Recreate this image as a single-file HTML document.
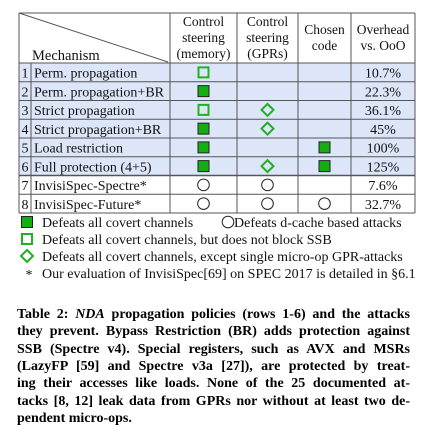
<!DOCTYPE html>
<html><head><meta charset="utf-8"><style>
body{margin:0;width:435px;height:440px;background:#fff;position:relative;overflow:hidden}
svg{position:absolute;left:0;top:0}
svg text{font-family:"Liberation Serif",serif}
.cap{position:absolute;left:17px;width:393px;font-family:"Liberation Serif",serif;font-weight:bold;font-size:14px;line-height:17px;text-align:justify;text-align-last:justify;white-space:nowrap}
</style></head><body>
<svg id="tbl" width="435" height="300"></svg>
<div>
<div class="cap" style="top:306px">Table 2: <i>NDA</i> propagation policies (rows 1-6) and the attacks</div>
<div class="cap" style="top:323px">they prevent. Bypass Restriction (BR) adds protection against</div>
<div class="cap" style="top:341px">SSB (Spectre v4). Special registers, such as AVX and MSRs</div>
<div class="cap" style="top:358px">(LazyFP [59] and Spectre v3a [27]), are protected by treat-</div>
<div class="cap" style="top:375px">ing their accesses like loads. None of the 25 documented at-</div>
<div class="cap" style="top:393px">tacks [8, 12] leak data from GPRs nor without at least two de-</div>
<div class="cap" style="top:410px;text-align-last:left">pendent micro-ops.</div>
</div>
<script>
const mechanisms=["Perm. propagation","Perm. propagation+BR","Strict propagation","Strict propagation+BR","Load restriction","Full protection (4+5)","InvisiSpec-Spectre*","InvisiSpec-Future*"];
const colMemory=["hs","fs","hs","fs","fs","fs","ci","ci"];
const colGPRs=["","","dm","dm","","dm","ci","ci"];
const colChosen=["","","","","fs","fs","","ci"];
const overheads=["10.7%","22.3%","36.1%","45%","100%","125%","7.6%","32.7%"];
const NS="http://www.w3.org/2000/svg";
const svg=document.getElementById('tbl');
function mk(tag,attrs,parent){const e=document.createElementNS(NS,tag);for(const k in attrs)e.setAttribute(k,attrs[k]);(parent||svg).appendChild(e);return e;}
const X=[19,31,170,237,298,351,415];const TOP=13,HB=63,RH=18.75;
const BOT=HB+RH*mechanisms.length;
const FS=14;
const bg=mk('rect',{x:X[0],y:HB,width:X[6]-X[0],height:RH*6,fill:'#dde6f8'});


function ln(x1,y1,x2,y2,w){const l=mk('line',{x1,y1,x2,y2,stroke:'#555','stroke-width':w||1});}
ln(X[0],TOP,X[6],TOP);
ln(X[0],HB,X[6],HB);
for(let i=1;i<=mechanisms.length;i++)ln(X[0],HB+RH*i,X[6],HB+RH*i,i==6?1.6:1);
ln(X[0],TOP,X[0],BOT);ln(X[6],TOP,X[6],BOT);
ln(X[1],HB,X[1],BOT);
for(let c=2;c<6;c++)ln(X[c],TOP,X[c],BOT);
ln(X[0],TOP,X[2]-2,HB-1);
function txt(s,x,y,size,anchor,name){const t=mk('text',{x,y,'font-size':size,'text-anchor':anchor||'start',fill:'#111'});t.textContent=s;return t;}
txt('Mechanism',32,60,14.5,'start','mechanism-header');
const hdr=[["Control","steering","(memory)"],["Control","steering","(GPRs)"],["Chosen","code"],["Overhead","vs. OoO"]];
hdr.forEach((lines,i)=>{const cx=(X[i+2]+X[i+3])/2;const y0=lines.length==3?26:34;lines.forEach((s,j)=>txt(s,cx,y0+j*16,13.5,'middle','column-header'));});
function sym(type,cx,cy,name){if(!type)return;let e;
 if(type=='fs')e=mk('rect',{x:cx-5.5,y:cy-5.5,width:11,height:11,fill:'#14ae14',stroke:'#222','stroke-width':1});
 else if(type=='hs')e=mk('rect',{x:cx-5,y:cy-5,width:10,height:10,fill:'none',stroke:'#22b022','stroke-width':2});
 else if(type=='dm')e=mk('polygon',{points:`${cx},${cy-6} ${cx+6},${cy} ${cx},${cy+6} ${cx-6},${cy}`,fill:'none',stroke:'#22b022','stroke-width':2});
 else if(type=='ci')e=mk('circle',{cx,cy,r:5.8,fill:'none',stroke:'#222','stroke-width':1});
 }
mechanisms.forEach((m,i)=>{const y=HB+RH*i;const cy=y+RH/2;
 txt(String(i+1),25,y+14.5,FS,'middle','row-number');
 txt(m,34,y+14.5,FS,'start','mechanism-name');
 sym(colMemory[i],(X[2]+X[3])/2,cy,'memory-symbol');
 sym(colGPRs[i],(X[3]+X[4])/2,cy,'gprs-symbol');
 sym(colChosen[i],(X[4]+X[5])/2,cy,'chosen-symbol');
 txt(overheads[i],(X[5]+X[6])/2,y+14.5,FS,'middle','overhead-value');
});
sym('fs',27,222,'legend-filled-square-icon');
txt('Defeats all covert channels',42,227,FS,'start','legend-filled-square');
sym('ci',228,222,'legend-circle-icon');
txt('Defeats d-cache based attacks',234,227,FS,'start','legend-circle');
sym('hs',27,239,'legend-hollow-square-icon');
txt('Defeats all covert channels, but does not block SSB',42,244,FS,'start','legend-hollow-square');
sym('dm',27,256,'legend-diamond-icon');
txt('Defeats all covert channels, except single micro-op GPR-attacks',42,261,FS,'start','legend-diamond');
txt('*',29,279,FS,'middle','legend-asterisk-icon');
txt('Our evaluation of InvisiSpec[69] on SPEC 2017 is detailed in §6.1',42,278,FS,'start','legend-asterisk');
</script>
</body></html>
